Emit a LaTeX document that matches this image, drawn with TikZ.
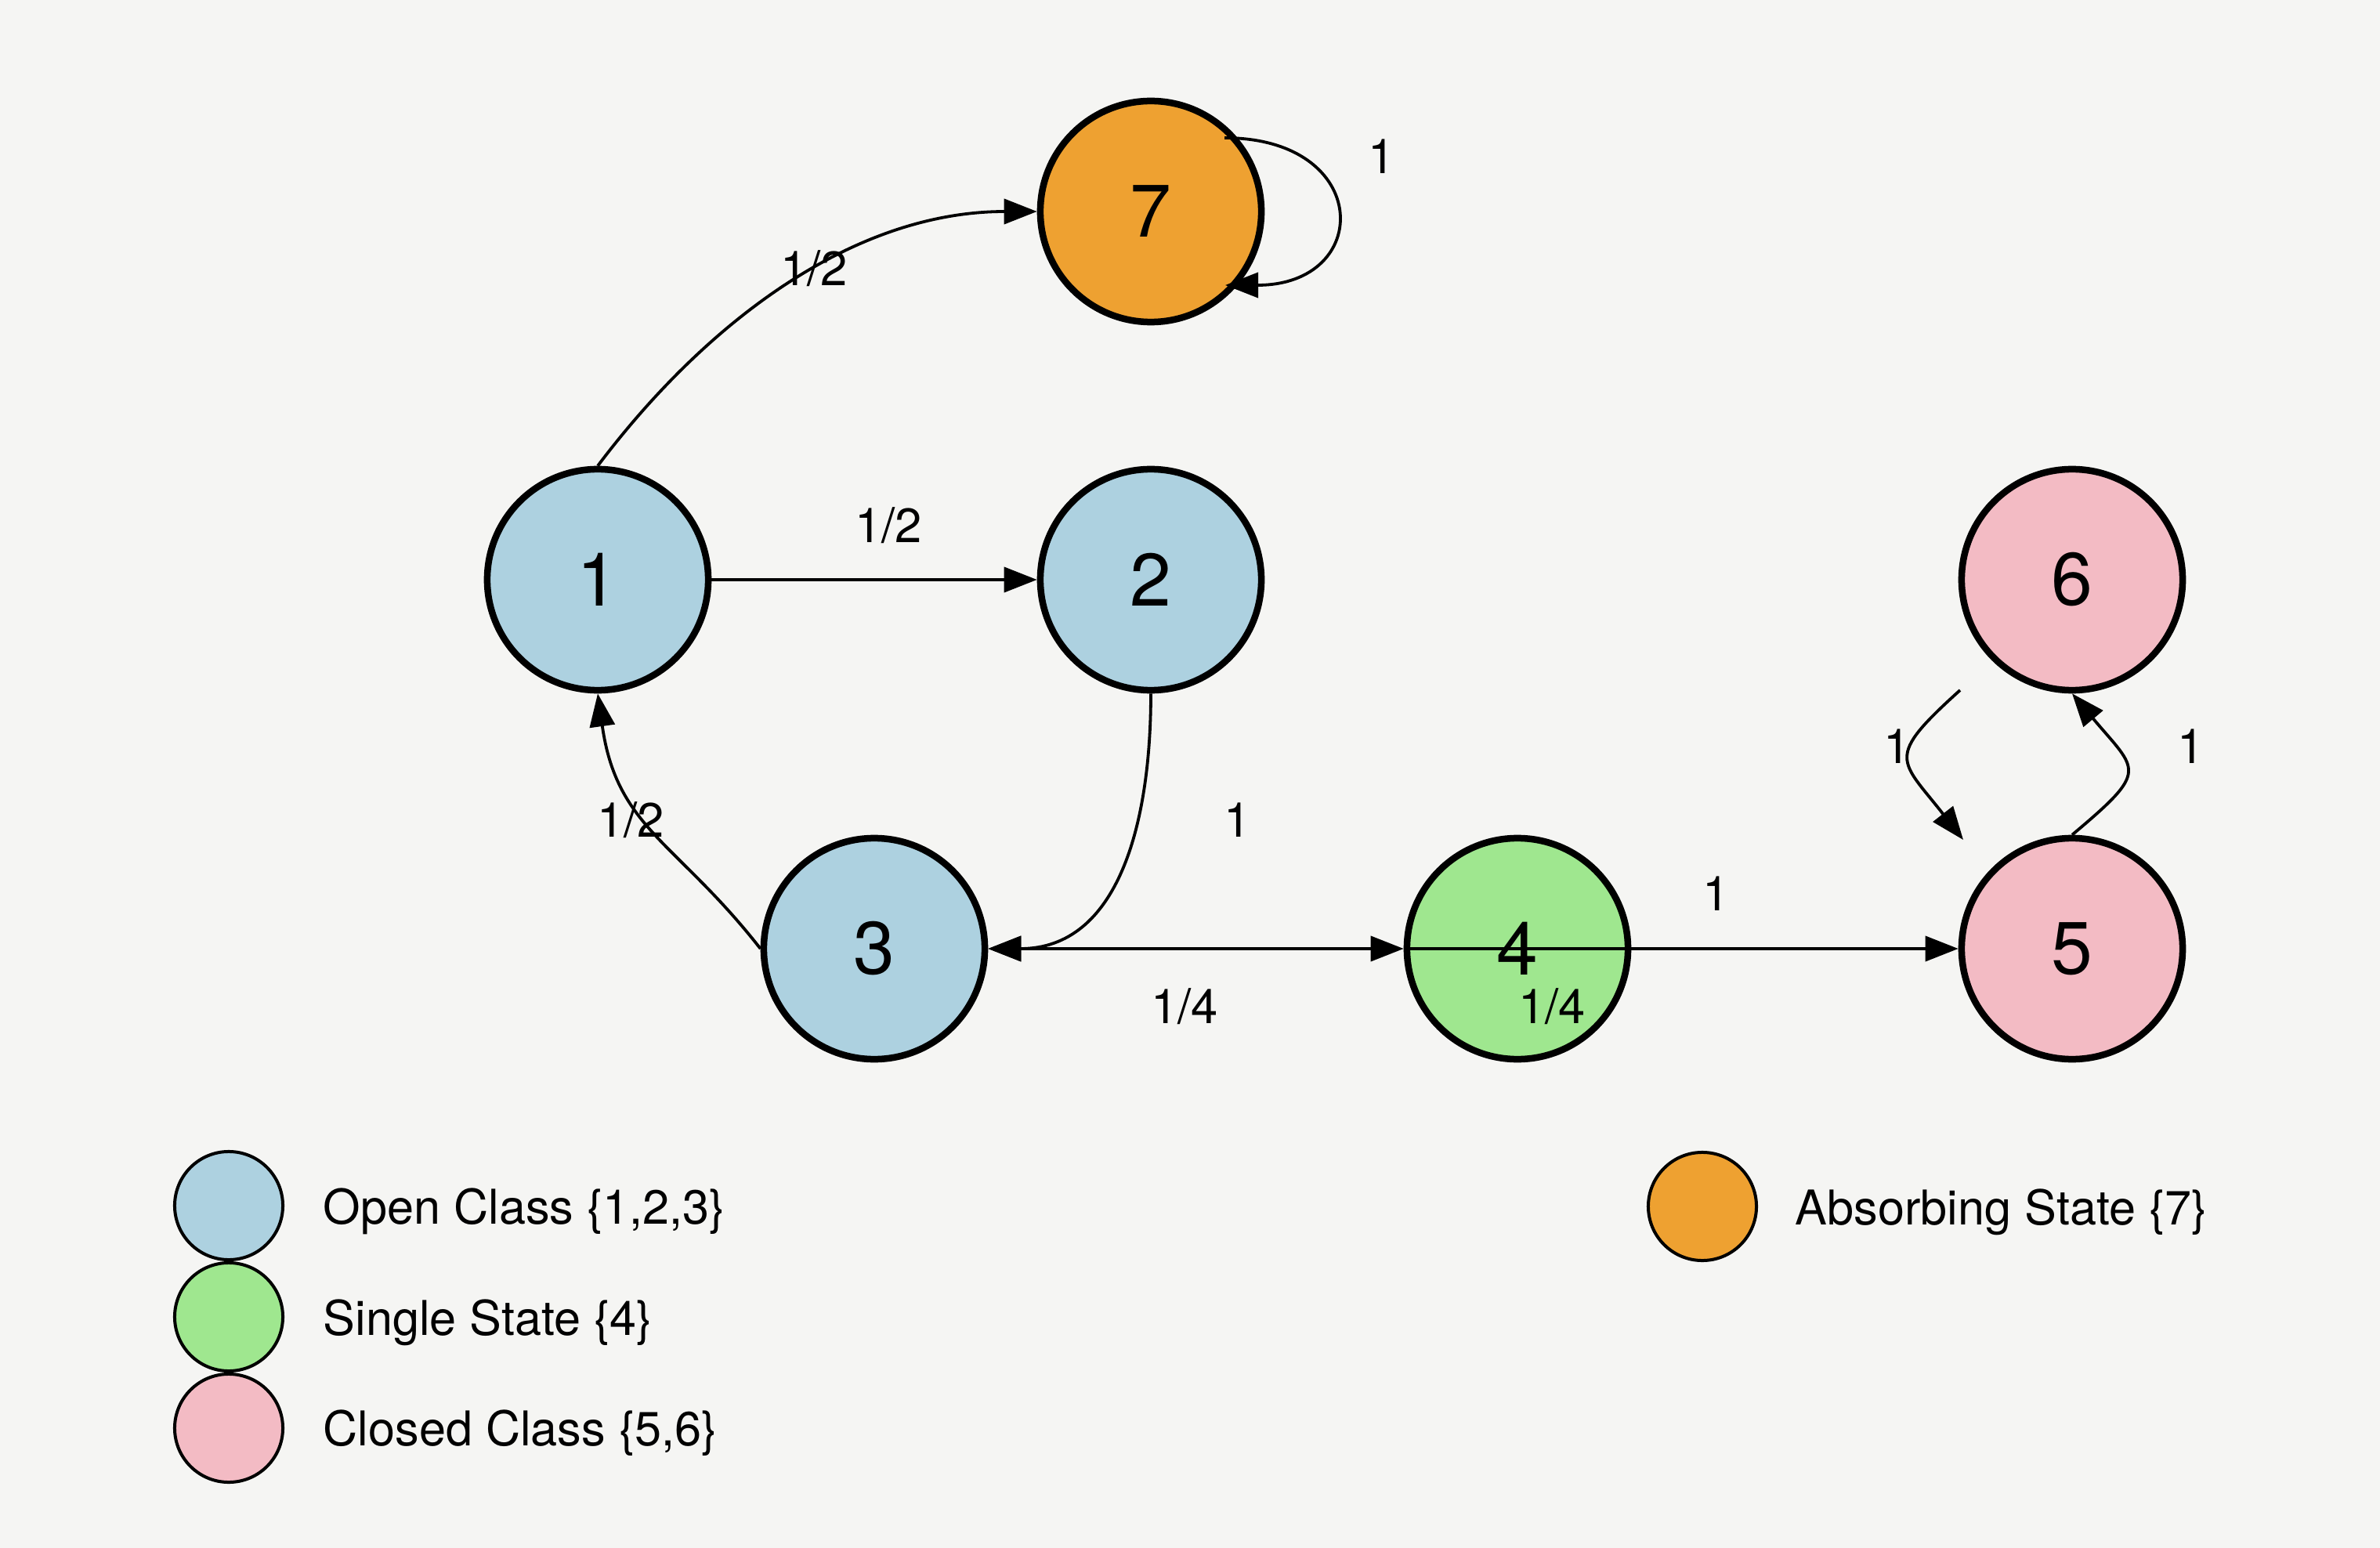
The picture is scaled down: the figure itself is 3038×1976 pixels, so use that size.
\documentclass[tikz,border=0pt]{standalone}
\usepackage{fontspec}
\setmainfont{TeX Gyre Heros}
\usetikzlibrary{arrows.meta,calc}
\definecolor{bgc}{HTML}{F5F5F3}
\definecolor{cblue}{HTML}{ADD1E0}
\definecolor{cgreen}{HTML}{9FE78F}
\definecolor{cpink}{HTML}{F3BBC4}
\definecolor{corange}{HTML}{EEA131}
\tikzset{
  state/.style={circle, draw=black, line width=0.085cm, minimum size=2.82cm, inner sep=0pt, font=\fontsize{27}{27}\selectfont},
  legdot/.style={circle, draw=black, line width=0.04cm, minimum size=1.38cm, inner sep=0pt},
  lbl/.style={font=\fontsize{17.5}{18}\selectfont, inner sep=0pt},
  legtxt/.style={font=\fontsize{17.4}{18}\selectfont, inner sep=0pt, anchor=base west},
  tip/.tip={Triangle[length=0.42cm,width=0.32cm]},
  edge/.style={line width=0.038cm, -tip},
}
\begin{document}
\begin{tikzpicture}[x=0.01cm, y=-0.01cm]
\useasboundingbox (0,0) rectangle (3038,1976);
\fill[bgc] (0,0) rectangle (3038,1976);
% states
\node[state, fill=corange] (n7) at (1469,270) {7};
\node[state, fill=cblue] (n1) at (763,740) {1};
\node[state, fill=cblue] (n2) at (1469,740) {2};
\node[state, fill=cpink] (n6) at (2645,740) {6};
\node[state, fill=cblue] (n3) at (1116,1211) {3};
\node[state, fill=cgreen] (n4) at (1937,1211) {4};
\node[state, fill=cpink] (n5) at (2645,1211) {5};
% free ends
\coordinate (a6) at (2502,881);
\coordinate (b5) at (2506,1072);
% edges
\draw[edge] (n1.north) to[out=53,in=180,looseness=0.92] (n7.west);
\draw[edge] ($(n7)+(94,-94)$) to[out=0,in=0,looseness=2.57] ($(n7)+(95,94)$);
\draw[edge] (n1) -- (n2);
\draw[edge] (n2.south) to[out=-90,in=0,looseness=1.1] (n3.east);
\draw[edge] (n3.west) to[out=128,in=-82,looseness=1.15] (n1.south);
\draw[edge, tip-tip] (n3) -- (n4);
\draw[edge] (n4.west) -- (n5);
\draw[edge] (a6) to[out=222,in=128,looseness=1.75] (b5);
\draw[edge] (n5.north) to[out=40,in=-50,looseness=1.85] (n6.south);
% edge labels
\node[lbl] (l17) at (1039,343) {1/2};
\node[lbl] (l77) at (1764,200) {1};
\node[lbl] (l12) at (1134,671) {1/2};
\node[lbl] (l31) at (805,1047) {1/2};
\node[lbl] (l23) at (1580,1047) {1};
\node[lbl] (l34) at (1512,1285) {1/4};
\node[lbl] (l44) at (1981,1285) {1/4};
\node[lbl] (l45) at (2191,1141) {1};
\node[lbl] (l65) at (2422,953) {1};
\node[lbl] (l56) at (2797,953) {1};
% legend
\node[legdot, fill=cblue] (d1) at (292,1539) {};
\node[legdot, fill=cgreen] (d2) at (292,1681) {};
\node[legdot, fill=cpink] (d3) at (292,1823) {};
\node[legdot, fill=corange] (d4) at (2173,1540) {};
\node[legtxt] (t1) at (412,1562) {Open Class \{1,2,3\}};
\node[legtxt] (t2) at (412,1704) {Single State \{4\}};
\node[legtxt] (t3) at (412,1845) {Closed Class \{5,6\}};
\node[legtxt] (t4) at (2291,1563) {Absorbing State \{7\}};
\end{tikzpicture}
\end{document}
